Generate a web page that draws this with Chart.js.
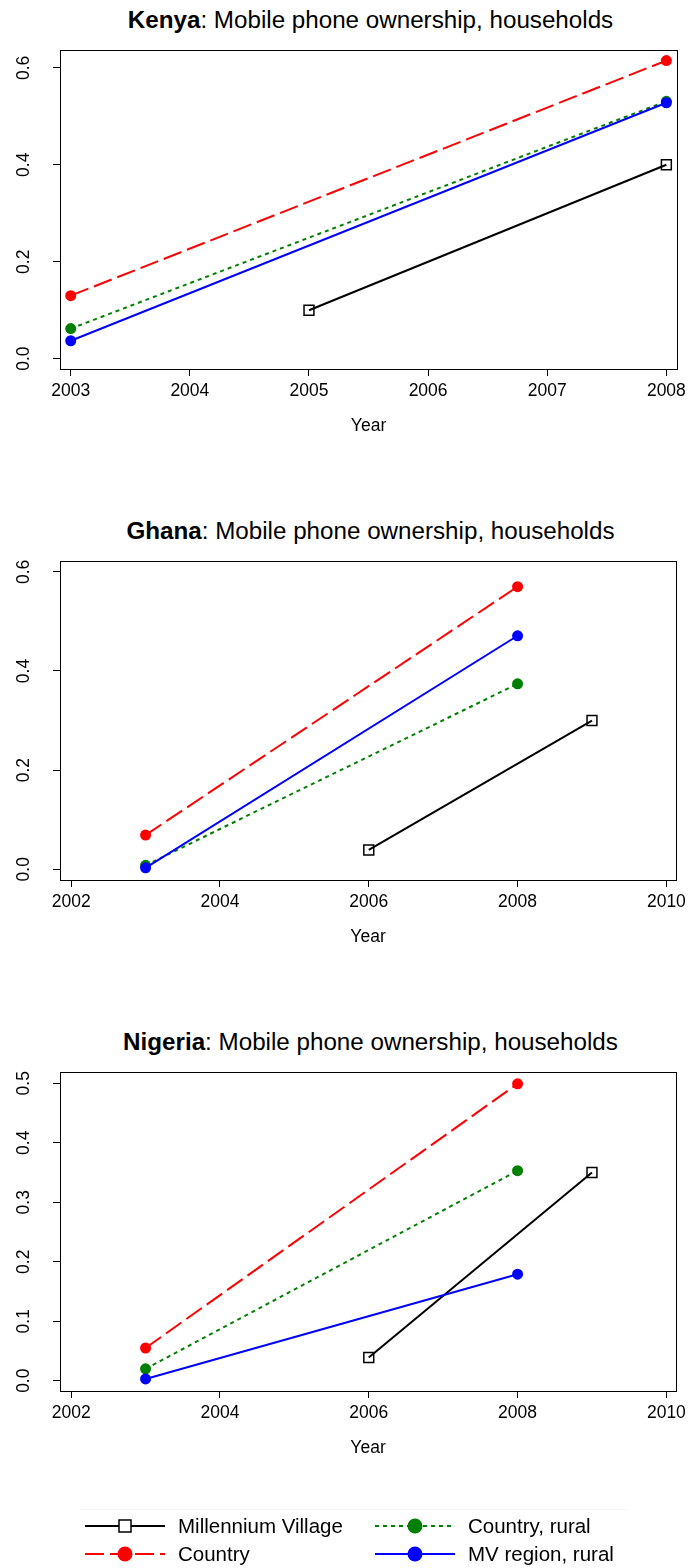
<!DOCTYPE html>
<html>
<head>
<meta charset="utf-8">
<title>Mobile phone ownership, households</title>
<script src="https://cdn.jsdelivr.net/npm/chart.js@4.4.1/dist/chart.umd.min.js"></script>
<style>
  html, body { margin: 0; padding: 0; background: #fff; }
  body {
    position: relative; width: 691px; height: 1568px; overflow: hidden;
    font-family: 'Liberation Sans', Arial, Helvetica, sans-serif; color: #000;
  }
  .panel { position: absolute; left: 0; width: 691px; }
  .panel canvas { position: absolute; left: 0; top: 0; }
  .panel h2 {
    position: absolute; left: 60px; width: 621px; top: 8px; margin: 0;
    font-size: 24.2px; line-height: 1; font-weight: normal;
    text-align: center; white-space: nowrap;
  }
  .panel h2 b { font-weight: bold; }
  #legend-rule { position: absolute; left: 79px; top: 1509px; width: 550px; border-top: 1px solid #f6f6f6; }
  .key {
    position: absolute; height: 24px; line-height: 24px;
    display: flex; align-items: center; font-size: 20.5px; white-space: nowrap;
  }
  .key svg { margin-right: 13px; flex: none; }
</style>
</head>
<body>

<div class="panel" style="top:0px">
  <h2><b>Kenya</b>: Mobile phone ownership, households</h2>
  <canvas id="kenyaChart" width="691" height="511"></canvas>
</div>
<div class="panel" style="top:511px">
  <h2><b>Ghana</b>: Mobile phone ownership, households</h2>
  <canvas id="ghanaChart" width="691" height="511"></canvas>
</div>
<div class="panel" style="top:1022px">
  <h2><b>Nigeria</b>: Mobile phone ownership, households</h2>
  <canvas id="nigeriaChart" width="691" height="511"></canvas>
</div>

<div id="legend-rule"></div>
<div id="legend"></div>

<script>
// --- DATA ---
// share of households owning a mobile phone
const surveyYears = [2003, 2008];          // national DHS rounds (country, rural, MV region)

const kenyaVillageYears = [2005, 2008];
const kenyaVillage = [0.10, 0.40];
const kenyaCountry = [0.13, 0.615];
const kenyaCountryRural = [0.062, 0.531];
const kenyaRegionRural = [0.037, 0.528];

const ghanaVillageYears = [2006, 2009];
const ghanaVillage = [0.039, 0.30];
const ghanaCountry = [0.069, 0.570];
const ghanaCountryRural = [0.008, 0.374];
const ghanaRegionRural = [0.003, 0.471];

const nigeriaVillageYears = [2006, 2009];
const nigeriaVillage = [0.039, 0.35];
const nigeriaCountry = [0.055, 0.499];
const nigeriaCountryRural = [0.020, 0.353];
const nigeriaRegionRural = [0.003, 0.179];

// axis tick labels
const kenyaYearTicks = [2003, 2004, 2005, 2006, 2007, 2008];
const wideYearTicks = [2002, 2004, 2006, 2008, 2010];
const shareTicks = [0, 0.2, 0.4, 0.6];
const nigeriaShareTicks = [0, 0.1, 0.2, 0.3, 0.4, 0.5];

// --- STYLES ---
const seriesStyles = [
    { label: 'Millennium Village', color: '#000000', dash: [], marker: 'rect' },
    { label: 'Country', color: '#ff0000', dash: [19, 6], marker: 'circle' },
    { label: 'Country, rural', color: '#008000', dash: [4, 4], marker: 'circle' },
    { label: 'MV region, rural', color: '#0000ff', dash: [], marker: 'circle' }
];

Chart.defaults.font.family = "'Liberation Sans', Arial, Helvetica, sans-serif";
Chart.defaults.color = '#000';

// box around the plotting region, like base R's bty="o"
const framePlugin = {
    id: 'frame',
    beforeDatasetsDraw(chart) {
        const { ctx, chartArea: a } = chart;
        ctx.save();
        ctx.strokeStyle = '#000';
        ctx.lineWidth = 1;
        ctx.strokeRect(Math.round(a.left) + 0.5, Math.round(a.top) + 0.5,
            Math.round(a.right - a.left), Math.round(a.bottom - a.top));
        ctx.restore();
    }
};

function makePanel(canvasId, p) {
    const series = [
        [p.villageYears, p.village],
        [surveyYears, p.country],
        [surveyYears, p.countryRural],
        [surveyYears, p.regionRural]
    ];
    const datasets = seriesStyles.map((s, i) => {
        const isSquare = s.marker === 'rect';
        return {
            label: s.label,
            data: series[i][0].map((yr, j) => ({ x: yr, y: series[i][1][j] })),
            borderColor: s.color,
            borderWidth: 2,
            borderDash: s.dash,
            pointStyle: s.marker,
            pointRadius: isSquare ? 7 : 5.5,
            pointBackgroundColor: isSquare ? 'rgba(0,0,0,0)' : s.color,
            pointBorderColor: s.color,
            pointBorderWidth: isSquare ? 1.5 : 0,
            tension: 0,
            clip: false,
            order: seriesStyles.length - i   // later series sit on top
        };
    });

    const tickFont = { size: 17.5 };
    return new Chart(document.getElementById(canvasId), {
        type: 'line',
        data: { datasets },
        options: {
            responsive: false,
            animation: false,
            events: [],
            layout: { padding: { top: 50, right: 10, bottom: 0, left: 0 } },
            plugins: { legend: { display: false }, tooltip: { enabled: false } },
            scales: {
                x: {
                    type: 'linear',
                    min: p.xMin, max: p.xMax,
                    afterBuildTicks: ax => { ax.ticks = p.xTicks.map(v => ({ value: v })); },
                    afterFit: ax => { ax.height = 142; },
                    border: { display: false },
                    grid: { drawOnChartArea: false, drawTicks: true, tickLength: 7, tickColor: '#000', tickWidth: 1 },
                    ticks: { padding: 5, maxRotation: 0, autoSkip: false, font: tickFont, callback: v => String(v) },
                    title: { display: true, text: 'Year', font: tickFont, padding: { top: 0, bottom: 74.5 } }
                },
                y: {
                    type: 'linear',
                    min: p.yMin, max: p.yMax,
                    afterBuildTicks: ax => { ax.ticks = p.yTicks.map(v => ({ value: v })); },
                    afterFit: ax => { ax.width = 60; },
                    border: { display: false },
                    grid: { drawOnChartArea: false, drawTicks: true, tickLength: 7, tickColor: '#000', tickWidth: 1 },
                    ticks: {
                        minRotation: 90, maxRotation: 90, crossAlign: 'center', padding: 17,
                        font: tickFont, callback: v => v.toFixed(1)
                    }
                }
            }
        },
        plugins: [framePlugin]
    });
}

makePanel('kenyaChart', {
    villageYears: kenyaVillageYears, village: kenyaVillage, country: kenyaCountry,
    countryRural: kenyaCountryRural, regionRural: kenyaRegionRural,
    xMin: 2002.91, xMax: 2008.09, xTicks: kenyaYearTicks,
    yMin: -0.0213, yMax: 0.6368, yTicks: shareTicks
});
makePanel('ghanaChart', {
    villageYears: ghanaVillageYears, village: ghanaVillage, country: ghanaCountry,
    countryRural: ghanaCountryRural, regionRural: ghanaRegionRural,
    xMin: 2001.85, xMax: 2010.13, xTicks: wideYearTicks,
    yMin: -0.0216, yMax: 0.6218, yTicks: shareTicks
});
makePanel('nigeriaChart', {
    villageYears: nigeriaVillageYears, village: nigeriaVillage, country: nigeriaCountry,
    countryRural: nigeriaCountryRural, regionRural: nigeriaRegionRural,
    xMin: 2001.85, xMax: 2010.13, xTicks: wideYearTicks,
    yMin: -0.0173, yMax: 0.5189, yTicks: nigeriaShareTicks
});

// --- LEGEND (two columns, line sample with marker) ---
const legendSlots = [
    { left: 85, top: 1514 }, { left: 85, top: 1542 },
    { left: 375, top: 1514 }, { left: 375, top: 1542 }
];
const legendEl = document.getElementById('legend');
seriesStyles.forEach((s, i) => {
    const marker = s.marker === 'rect'
        ? `<rect x="34" y="6" width="12" height="12" fill="#fff" stroke="${s.color}" stroke-width="1.5"/>`
        : `<circle cx="40" cy="12" r="7.5" fill="${s.color}"/>`;
    const dash = s.dash.length ? ` stroke-dasharray="${s.dash.join(' ')}"` : '';
    const key = document.createElement('div');
    key.className = 'key';
    key.style.left = legendSlots[i].left + 'px';
    key.style.top = legendSlots[i].top + 'px';
    key.innerHTML = `<svg width="80" height="24" viewBox="0 0 80 24">` +
        `<line x1="0" y1="12" x2="80" y2="12" stroke="${s.color}" stroke-width="2"${dash}/>${marker}</svg>` +
        `<span>${s.label}</span>`;
    legendEl.appendChild(key);
});
</script>
</body>
</html>
